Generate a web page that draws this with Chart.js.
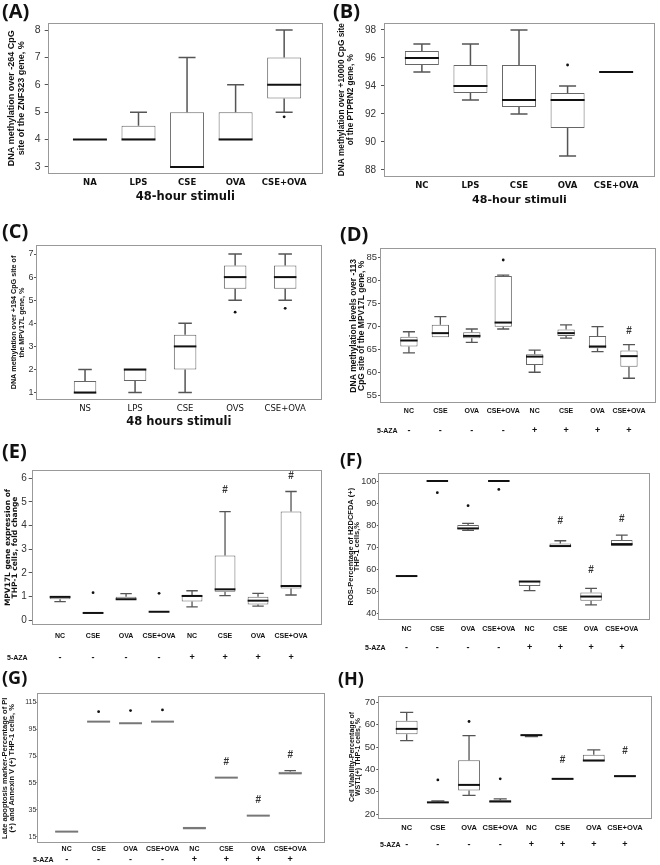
<!DOCTYPE html>
<html>
<head>
<meta charset="utf-8">
<script src="https://cdn.jsdelivr.net/npm/chart.js@4.4.1/dist/chart.umd.min.js"></script>
<style>
  body { margin: 0; background: #fff; }
  #page { position: relative; width: 660px; height: 865px; overflow: hidden; background: #fff; }
  canvas { position: absolute; }
  .lab { position: absolute; font: bold 20px 'Open Sans', sans-serif; color: #111; line-height: 1; }
</style>
</head>
<body>
<div id="page">
  <canvas id="cA"></canvas><canvas id="cB"></canvas><canvas id="cC"></canvas><canvas id="cD"></canvas>
  <canvas id="cE"></canvas><canvas id="cF"></canvas><canvas id="cG"></canvas><canvas id="cH"></canvas>
  <div class="lab" style="left:2px;top:1px">(A)</div>
  <div class="lab" style="left:333px;top:1px">(B)</div>
  <div class="lab" style="left:2px;top:221px">(C)</div>
  <div class="lab" style="left:340px;top:224px">(D)</div>
  <div class="lab" style="left:2px;top:441px">(E)</div>
  <div class="lab" style="left:340px;top:450px;font-size:18px">(F)</div>
  <div class="lab" style="left:2px;top:668px;font-size:18px">(G)</div>
  <div class="lab" style="left:338px;top:669px;font-size:18px">(H)</div>
</div>
<script>
// box stats per group: [min, q1, median, q3, max]
const catsA = ['NA', 'LPS', 'CSE', 'OVA', 'CSE+OVA'];
const boxA = [[4, 4, 4, 4, 4], [4, 4, 4, 4.5, 5], [3, 3, 3, 5, 7], [4, 4, 4, 5, 6], [5, 5.5, 6, 7, 8]];
const outA = [[4, 4.83]];
const ticksA = [3, 4, 5, 6, 7, 8];

const catsB = ['NC', 'LPS', 'CSE', 'OVA', 'CSE+OVA'];
const boxB = [[95, 95.5, 96, 96.5, 97], [93, 93.5, 94, 95.5, 97], [92, 92.5, 93, 95.5, 98], [89, 91, 93, 93.5, 94], [95, 95, 95, 95, 95]];
const outB = [[3, 95.5]];
const ticksB = [88, 90, 92, 94, 96, 98];

const catsC = ['NS', 'LPS', 'CSE', 'OVS', 'CSE+OVA'];
const boxC = [[1, 1, 1, 1.5, 2], [1, 1.5, 2, 2, 2], [1, 2, 3, 3.5, 4], [5, 5.5, 6, 6.5, 7], [5, 5.5, 6, 6.5, 7]];
const outC = [[3, 4.48], [4, 4.65]];
const ticksC = [1, 2, 3, 4, 5, 6, 7];

// panels D-H share the same groups
const cats8 = ['NC', 'CSE', 'OVA', 'CSE+OVA', 'NC', 'CSE', 'OVA', 'CSE+OVA'];
const aza = ['-', '-', '-', '-', '+', '+', '+', '+'];

const boxD = [[64.3, 65.7, 67.0, 67.8, 68.9], [67.7, 67.7, 68.6, 70.4, 72.2], [66.6, 67.5, 68.0, 68.8, 69.5], [69.5, 70.0, 70.9, 81.0, 81.2],
              [60.1, 61.7, 63.5, 64.0, 64.9], [67.5, 68.0, 68.6, 69.4, 70.4], [64.6, 65.3, 65.7, 68.0, 70.0], [58.8, 61.3, 63.6, 64.8, 66.1]];
const outD = [[3, 84.5]];
const hashD = [[7, 69.1]];
const ticksD = [55, 60, 65, 70, 75, 80, 85];

const boxE = [[0.78, 0.88, 0.98, 1.0, 1.0], [0.28, 0.28, 0.3, 0.32, 0.32], [0.86, 0.86, 0.88, 0.99, 1.12], [0.33, 0.33, 0.35, 0.37, 0.38],
              [0.56, 0.78, 1.02, 1.03, 1.24], [1.03, 1.2, 1.3, 2.73, 4.59], [0.59, 0.66, 0.82, 0.99, 1.13], [1.06, 1.34, 1.44, 4.59, 5.44]];
const outE = [[1, 1.16], [3, 1.13]];
const hashE = [[5, 5.5], [7, 6.07]];
const ticksE = [0, 1, 2, 3, 4, 5, 6];

const boxF = [[56.3, 56.5, 56.9, 57.2, 57.4], [100, 100, 100, 100, 100], [77.6, 78.1, 78.5, 80.1, 80.8], [100, 100, 100, 100, 100],
              [50.3, 52.4, 54.4, 54.8, 54.8], [70.2, 70.2, 70.5, 71.7, 72.9], [43.8, 45.7, 47.6, 49.4, 51.3], [70.5, 70.5, 71.4, 73.3, 75.5]];
const outF = [[1, 94.7], [2, 88.8], [3, 96.2]];
const hashF = [[5, 81.6], [6, 59.6], [7, 82.6]];
const ticksF = [40, 50, 60, 70, 80, 90, 100];

const boxG = [[18.3, 18.4, 18.7, 19.0, 19.1], [100.6, 100.6, 100.6, 100.6, 100.6], [99.4, 99.4, 99.4, 99.4, 99.4], [100.6, 100.6, 100.6, 100.6, 100.6],
              [21.2, 21.2, 21.2, 22.4, 22.4], [58.9, 58.9, 58.9, 58.9, 58.9], [30.2, 30.3, 30.6, 30.9, 31.0], [61.3, 61.6, 62.1, 63.2, 64.1]];
const outG = [[1, 108], [2, 108.8], [3, 109.3]];
const hashG = [[5, 70.3], [6, 41.8], [7, 75.8]];
const ticksG = [15, 35, 55, 75, 95, 115];

const boxH = [[52.9, 55.7, 58.1, 61.7, 65.5], [25.0, 25.0, 25.3, 25.6, 26.0], [28.4, 30.6, 33.1, 44.1, 55.1], [25.2, 25.4, 25.7, 26.2, 26.9],
              [54.6, 54.9, 55.3, 55.6, 55.7], [35.4, 35.5, 35.8, 36.0, 36.1], [43.5, 43.5, 44.0, 46.5, 48.7], [36.6, 36.7, 37.0, 37.4, 37.6]];
const outH = [[1, 35.3], [2, 61.4], [3, 35.8]];
const hashH = [[5, 44.3], [7, 48.3]];
const ticksH = [20, 30, 40, 50, 60, 70];

const NARROW = "'Liberation Sans Narrow', 'Liberation Sans', Arial, sans-serif";
const ARIAL = "'Liberation Sans', Arial, sans-serif";
const WIDE = "'DejaVu Sans', sans-serif";

// whiskers, medians, # marks, frame and the 5-AZA row
const boxPlot = {
  id: 'boxPlot',
  afterDatasetsDraw(chart, args, o) {
    const { ctx, chartArea: ca, scales: { x, y } } = chart;
    const bars = chart.getDatasetMeta(0).data;
    const stats = chart.data.datasets[0].stats;
    ctx.save();
    stats.forEach((s, i) => {
      const cx = bars[i].x, w = bars[i].width, c = w * o.cap / 2;
      const [lo, q1, med, q3, hi] = s.map(v => y.getPixelForValue(v));
      ctx.strokeStyle = o.whisker;
      ctx.lineWidth = o.whiskerW;
      ctx.beginPath();
      if (hi < q3 - 0.5) {
        ctx.moveTo(cx, q3); ctx.lineTo(cx, hi);
        ctx.moveTo(cx - c, hi); ctx.lineTo(cx + c, hi);
      }
      if (lo > q1 + 0.5) {
        ctx.moveTo(cx, q1); ctx.lineTo(cx, lo);
        ctx.moveTo(cx - c, lo); ctx.lineTo(cx + c, lo);
      }
      ctx.stroke();
      ctx.strokeStyle = o.median;
      ctx.lineWidth = o.medianW;
      ctx.beginPath();
      ctx.moveTo(cx - w / 2, med); ctx.lineTo(cx + w / 2, med);
      ctx.stroke();
    });

    ctx.fillStyle = '#333';
    ctx.font = 'bold 10px ' + ARIAL;
    ctx.textAlign = 'center';
    ctx.textBaseline = 'middle';
    (o.hash || []).forEach(([i, v]) => ctx.fillText('#', x.getPixelForValue(i), y.getPixelForValue(v)));

    ctx.strokeStyle = '#999';
    ctx.lineWidth = 1;
    ctx.strokeRect(Math.round(ca.left) + 0.5, Math.round(ca.top) + 0.5,
                   Math.round(ca.right - ca.left) - 1, Math.round(ca.bottom - ca.top) - 1);

    if (o.aza) {
      const ry = ca.bottom + o.azaDy;
      ctx.fillStyle = '#111';
      ctx.font = 'bold 7px ' + NARROW;
      ctx.textAlign = 'left';
      ctx.fillText('5-AZA', o.azaX, ry);
      ctx.textAlign = 'center';
      ctx.font = 'bold 9px ' + ARIAL;
      o.aza.forEach((t, i) => ctx.fillText(t, x.getPixelForValue(i), ry));
    }
    ctx.restore();
  }
};

function boxChart(id, p) {
  const cv = document.getElementById(id);
  cv.width = p.w; cv.height = p.h;
  cv.style.left = p.cl + 'px'; cv.style.top = p.ct + 'px';
  cv.style.width = p.w + 'px'; cv.style.height = p.h + 'px';
  const yW = p.pl - p.cl, padTop = p.pt - p.ct, padRight = p.cl + p.w - p.pr, xH = p.ct + p.h - p.pb;

  new Chart(cv, {
    type: 'bar',
    data: {
      datasets: [
        {
          type: 'bar',
          stats: p.box,
          data: p.box.map((b, i) => ({ x: i, y: [b[1], b[3]] })),
          backgroundColor: '#fff',
          borderColor: p.boxColor || '#666',
          borderWidth: 1,
          borderSkipped: false,
          barPercentage: p.boxPct,
          categoryPercentage: 1
        },
        {
          type: 'scatter',
          data: p.out.map(o => ({ x: o[0], y: o[1] })),
          pointRadius: 1.4,
          pointBackgroundColor: '#111',
          pointBorderWidth: 0
        }
      ]
    },
    options: {
      responsive: false,
      animation: false,
      layout: { padding: { top: padTop, right: padRight, left: 0, bottom: 0 } },
      plugins: {
        legend: { display: false },
        tooltip: { enabled: false },
        boxPlot: {
          cap: p.cap, whisker: '#555', whiskerW: p.whiskerW || 1.3,
          median: p.medianColor || '#111', medianW: 2,
          hash: p.hash, aza: p.aza, azaDy: p.azaDy, azaX: p.azaX
        }
      },
      scales: {
        x: {
          type: 'linear', min: p.xr[0], max: p.xr[1], offset: false,
          afterBuildTicks: s => { s.ticks = p.cats.map((c, i) => ({ value: i })); },
          afterFit: s => { s.height = xH; },
          grid: { display: false, drawTicks: false },
          border: { display: false },
          ticks: { callback: v => p.cats[v], autoSkip: false, maxRotation: 0, padding: p.xPad, color: '#111', font: p.xFont },
          title: { display: !!p.xTitle, text: p.xTitle, color: '#111', font: p.xTitleFont, padding: { top: 0, bottom: p.xTitlePad || 0 } }
        },
        y: {
          min: p.yr[0], max: p.yr[1],
          afterBuildTicks: s => { s.ticks = p.ticks.map(v => ({ value: v })); },
          afterFit: s => { s.width = yW; },
          grid: { drawOnChartArea: false, drawTicks: true, tickLength: p.tickLen, color: '#555' },
          border: { display: false },
          ticks: { padding: p.yPad, color: '#333', font: p.yFont },
          title: { display: true, text: p.yTitle, color: '#111', font: p.yTitleFont, padding: { top: p.yTitlePad, bottom: 0 } }
        }
      }
    },
    plugins: [boxPlot]
  });
}

boxChart('cA', {
  cl: 0, ct: 0, w: 330, h: 212, pl: 47.7, pt: 22.7, pr: 323, pb: 174,
  cats: catsA, box: boxA, out: outA, ticks: ticksA, xr: [-0.87, 4.8], yr: [2.74, 8.27],
  boxPct: 0.7, cap: 0.5, whiskerW: 1.5, tickLen: 3, yPad: 4, xPad: 3.5,
  yFont: { family: ARIAL, size: 10.5 },
  xFont: { family: WIDE, size: 8.5, weight: 'bold' },
  xTitle: '48-hour stimuli', xTitleFont: { family: WIDE, size: 11.5, weight: 'bold' }, xTitlePad: 8,
  yTitle: ['DNA methylation over -264 CpG', 'site of the ZNF323 gene, %'],
  yTitleFont: { family: NARROW, size: 9, weight: 'bold', lineHeight: 1.1 }, yTitlePad: 6.5
});

boxChart('cB', {
  cl: 330, ct: 0, w: 330, h: 212, pl: 384, pt: 22.7, pr: 655, pb: 176.7,
  cats: catsB, box: boxB, out: outB, ticks: ticksB, xr: [-0.78, 4.8], yr: [87.52, 98.52],
  boxPct: 0.7, cap: 0.5, whiskerW: 1.5, tickLen: 3, yPad: 5, xPad: 3.5,
  yFont: { family: ARIAL, size: 10 },
  xFont: { family: WIDE, size: 8.5, weight: 'bold' },
  xTitle: '48-hour stimuli', xTitleFont: { family: WIDE, size: 11, weight: 'bold' }, xTitlePad: 5,
  yTitle: ['DNA methylation over +10000 CpG site', 'of the PTPRN2 gene, %'],
  yTitleFont: { family: NARROW, size: 8.3, weight: 'bold', lineHeight: 1.1 }, yTitlePad: 7
});

boxChart('cC', {
  cl: 0, ct: 210, w: 330, h: 220, pl: 36, pt: 245, pr: 321.7, pb: 400,
  cats: catsC, box: boxC, out: outC, ticks: ticksC, xr: [-0.98, 4.73], yr: [0.68, 7.39],
  boxPct: 0.45, cap: 0.6, whiskerW: 1.5, tickLen: 2, yPad: 0.5, xPad: 4,
  yFont: { family: ARIAL, size: 9 },
  xFont: { family: WIDE, size: 8.5 },
  xTitle: '48 hours stimuli', xTitleFont: { family: WIDE, size: 11.5, weight: 'bold' }, xTitlePad: 1.5,
  yTitle: ['DNA methylation over +194 CpG site of', 'the MPV17L gene, %'],
  yTitleFont: { family: NARROW, size: 7.2, weight: 'bold', lineHeight: 1.15 }, yTitlePad: 10
});

boxChart('cD', {
  cl: 330, ct: 212, w: 330, h: 225, pl: 380, pt: 248.3, pr: 656, pb: 403.3,
  cats: cats8, box: boxD, out: outD, hash: hashD, ticks: ticksD, xr: [-0.92, 7.86], yr: [53.35, 87.04],
  boxPct: 0.55, cap: 0.7, tickLen: 2, yPad: 1, xPad: 4,
  yFont: { family: NARROW, size: 9.5 },
  xFont: { family: ARIAL, size: 7, weight: 'bold' },
  yTitle: ['DNA methylation levels over -113', 'CpG site of the MPV17L gene, %'],
  yTitleFont: { family: ARIAL, size: 8.5, weight: 'bold', lineHeight: 0.9 }, yTitlePad: 20,
  aza: aza, azaDy: 27.4, azaX: 47
});

boxChart('cE', {
  cl: 0, ct: 428, w: 330, h: 240, pl: 31.7, pt: 470, pr: 321.7, pb: 625,
  cats: cats8, box: boxE, out: outE, hash: hashE, ticks: ticksE, xr: [-0.86, 7.93], yr: [-0.21, 6.35],
  boxPct: 0.63, cap: 0.55, tickLen: 3, yPad: 2, xPad: 7,
  yFont: { family: NARROW, size: 10 },
  xFont: { family: ARIAL, size: 7, weight: 'bold' },
  yTitle: ['MPV17L gene expression of', 'THP-1 cells, fold change'],
  yTitleFont: { family: WIDE, size: 7.5, weight: 'bold', lineHeight: 0.95 }, yTitlePad: 4,
  aza: aza, azaDy: 33, azaX: 7
});

boxChart('cF', {
  cl: 330, ct: 437, w: 330, h: 220, pl: 378.3, pt: 473.3, pr: 650.7, pb: 620,
  cats: cats8, box: boxF, out: outF, hash: hashF, ticks: ticksF, xr: [-0.92, 7.94], yr: [36.96, 103.5],
  boxPct: 0.7, cap: 0.55, tickLen: 1.5, yPad: 0.5, xPad: 4.5,
  yFont: { family: NARROW, size: 9 },
  xFont: { family: ARIAL, size: 7, weight: 'bold' },
  yTitle: ['ROS-Percentage of H2DCFDA (+)', 'THP-1 cells,%'],
  yTitleFont: { family: ARIAL, size: 7.5, weight: 'bold', lineHeight: 0.85 }, yTitlePad: 17.5,
  aza: aza, azaDy: 28, azaX: 35
});

boxChart('cG', {
  cl: 0, ct: 668, w: 330, h: 197, pl: 37.3, pt: 693.3, pr: 325, pb: 843.3,
  cats: cats8, box: boxG, out: outG, hash: hashG, ticks: ticksG, xr: [-0.92, 8.09], yr: [10, 121.7],
  boxPct: 0.72, cap: 0.5, tickLen: 1, yPad: 0, xPad: 1.5, boxColor: '#888', medianColor: '#777',
  yFont: { family: NARROW, size: 7 },
  xFont: { family: ARIAL, size: 7, weight: 'bold' },
  yTitle: ['Late apoptosis marker-Percentage of PI', '(+) and Annexin V (+) THP-1 cells, %'],
  yTitleFont: { family: ARIAL, size: 7.5, weight: 'bold', lineHeight: 0.9 }, yTitlePad: 2,
  aza: aza, azaDy: 16.7, azaX: 33
});

boxChart('cH', {
  cl: 330, ct: 655, w: 330, h: 200, pl: 378.3, pt: 695.7, pr: 652.7, pb: 818.3,
  cats: cats8, box: boxH, out: outH, hash: hashH, ticks: ticksH, xr: [-0.91, 7.89], yr: [18.2, 72.9],
  boxPct: 0.7, cap: 0.6, tickLen: 2, yPad: 1, xPad: 5,
  yFont: { family: NARROW, size: 9.5 },
  xFont: { family: ARIAL, size: 7.5, weight: 'bold' },
  yTitle: ['Cell Viability-Percentage of', 'WST1(+) THP-1 cells, %'],
  yTitleFont: { family: ARIAL, size: 7, weight: 'bold', lineHeight: 0.9 }, yTitlePad: 18.5,
  aza: aza, azaDy: 26.7, azaX: 50
});
</script>
</body>
</html>
